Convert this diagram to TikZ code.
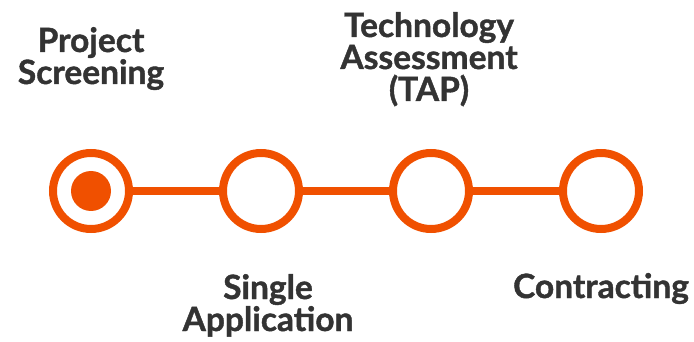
\documentclass[tikz,border=0pt]{standalone}
\usepackage{fontspec}
\setmainfont{Lato}[BoldFeatures={FakeBold=1.2}]
\definecolor{stepOrange}{HTML}{F05000}
\definecolor{labelGray}{HTML}{333333}
\begin{document}
\begin{tikzpicture}[x=1pt, y=-1pt,
    stepStyle/.style={circle, draw=stepOrange, line width=8pt, minimum size=76pt, inner sep=0pt},
    labelStyle/.style={font=\fontsize{33.5}{32}\selectfont\bfseries, text=labelGray, align=center, inner sep=0pt, anchor=base}]
    \useasboundingbox (0, 0) rectangle (694, 342);

    % Steps
    \node[stepStyle] (screening) at ( 91, 191) {};
    \node[stepStyle]    (single) at (261, 191) {};
    \node[stepStyle]       (tap) at (431, 191) {};
    \node[stepStyle]  (contract) at (601, 191) {};
    \node[circle, fill=stepOrange, minimum size=40pt, inner sep=0pt] (current) at (screening) {};

    % Labels
    \node[labelStyle] (lblScreening) at ( 91,  84) {Project\\Screening};
    \node[labelStyle]    (lblSingle) at (268, 331) {Single\\Application};
    \node[labelStyle]       (lblTap) at (429, 101) {Technology\\Assessment\\(TAP)};
    \node[labelStyle]  (lblContract) at (601, 298) {Contracting};

    % Edges
    \draw[stepOrange, line width=8pt] (screening) -- (single);
    \draw[stepOrange, line width=8pt] (single) -- (tap);
    \draw[stepOrange, line width=8pt] (tap) -- (contract);
\end{tikzpicture}
\end{document}
